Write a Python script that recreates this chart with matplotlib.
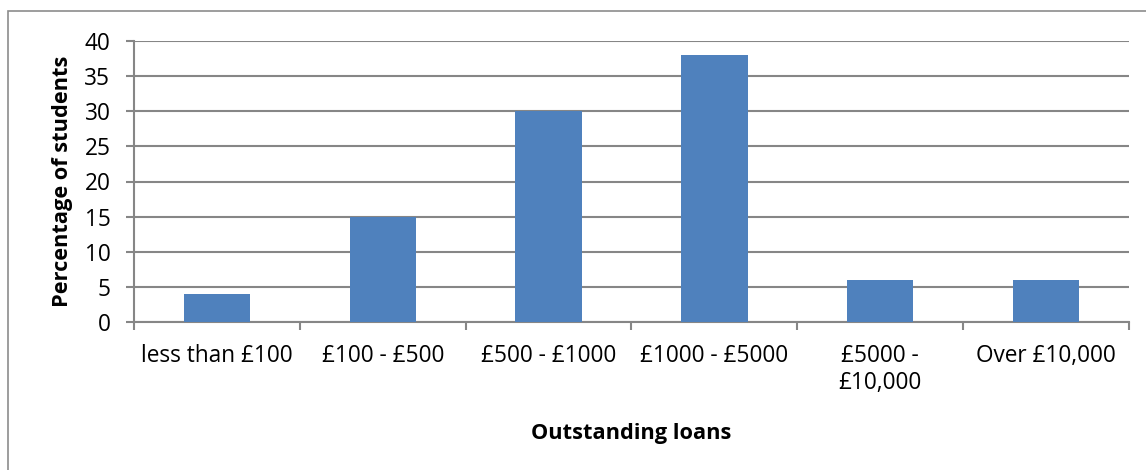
import numpy as np
import matplotlib
matplotlib.use('Agg')
import matplotlib.pyplot as plt
from matplotlib.patches import Rectangle

categories = ['less than £100', '£100 - £500', '£500 - £1000', '£1000 - £5000',
              '£5000 -\n£10,000', 'Over £10,000']
percent = [4, 15, 30, 38, 6, 6]

BAR_COLOR = '#4F81BD'
GRID_COLOR = '#868686'
FS = 16.3
LFS = 15.7

plt.rcParams['font.family'] = ['Open Sans', 'DejaVu Sans']

fig = plt.figure(figsize=(11.46, 4.70), dpi=100)
ax = fig.add_axes([134 / 1146, 1 - 322 / 470, (1129 - 134) / 1146, (322 - 41) / 470])

x = np.arange(len(categories))
ax.bar(x, percent, width=0.4, color=BAR_COLOR, zorder=3)

ax.set_xlim(-0.5, len(categories) - 0.5)
ax.set_ylim(0, 40)
ax.set_yticks(np.arange(0, 41, 5))
ax.yaxis.grid(True, color=GRID_COLOR, linewidth=1.5, zorder=0)

ax.set_xticks(x)
ax.set_xticklabels(categories, fontsize=FS, linespacing=1.15)
ax.set_xticks(np.arange(-0.5, len(categories)), minor=True)
ax.tick_params(axis='x', which='major', length=0, pad=16)
ax.tick_params(axis='x', which='minor', length=6, width=1.5, color=GRID_COLOR, direction='out')
ax.tick_params(axis='y', length=6, width=1.5, color=GRID_COLOR, labelsize=FS, pad=11)

for side in ['top', 'right']:
    ax.spines[side].set_visible(False)
for side in ['left', 'bottom']:
    ax.spines[side].set_color(GRID_COLOR)
    ax.spines[side].set_linewidth(1.5)

ax.set_ylabel('Percentage of students', fontsize=LFS, fontweight='bold', labelpad=8)
ax.set_xlabel('Outstanding loans', fontsize=LFS, fontweight='bold', labelpad=20)

# chart border (only left/top visible in the crop)
fig.patches.append(Rectangle((8 / 1146, -0.1), 1.2, 1 - 11 / 470 + 0.1,
                             transform=fig.transFigure, fill=False,
                             edgecolor='#8c8c8c', linewidth=1.2))

fig.savefig('out.png', dpi=100)
plt.close()
